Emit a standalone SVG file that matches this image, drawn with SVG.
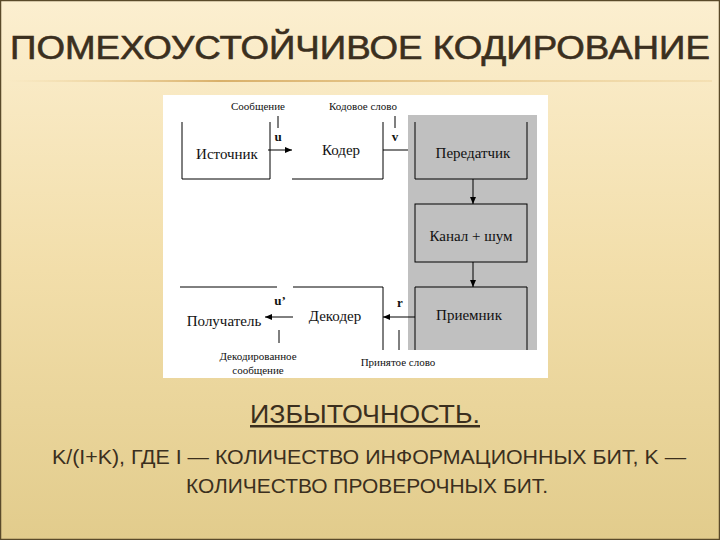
<svg xmlns="http://www.w3.org/2000/svg" width="720" height="540" viewBox="0 0 720 540">
<defs>
<linearGradient id="bg" x1="0" y1="0" x2="0" y2="1">
<stop offset="0" stop-color="#fcefd0"/><stop offset="0.5" stop-color="#f2deaa"/><stop offset="1" stop-color="#e2cc8c"/>
</linearGradient>
<linearGradient id="rule" x1="0" y1="0" x2="1" y2="0">
<stop offset="0" stop-color="#e8c88a" stop-opacity="0"/><stop offset="0.3" stop-color="#d9b06a"/><stop offset="1" stop-color="#e8c88a" stop-opacity="0.3"/>
</linearGradient>
<marker id="ar" markerWidth="8" markerHeight="8" refX="7" refY="4" orient="auto" markerUnits="userSpaceOnUse">
<path d="M0,1 L7,4 L0,7 Z" fill="#000"/>
</marker>
<style>
.ln{stroke:#000;stroke-width:1;fill:none}
.bx{font-family:"Liberation Serif",serif;font-size:15px;fill:#111;text-anchor:middle}
.sm{font-family:"Liberation Serif",serif;font-size:11px;fill:#111;text-anchor:middle}
.b{font-family:"Liberation Serif",serif;font-size:13px;font-weight:bold;fill:#111;text-anchor:middle}
.t{font-family:"Liberation Sans",sans-serif;fill:#3b2f1e}
</style>
</defs>
<rect width="720" height="540" fill="url(#bg)"/>
<rect x="0.5" y="0.5" width="719" height="539" fill="none" stroke="#5a4a2a" stroke-width="1.5"/>
<text class="t" x="360" y="59" font-size="33" stroke="#3b2f1e" stroke-width="0.6" text-anchor="middle" textLength="700" lengthAdjust="spacingAndGlyphs">ПОМЕХОУСТОЙЧИВОЕ КОДИРОВАНИЕ</text>
<rect x="8" y="80" width="704" height="2" fill="url(#rule)"/>
<rect x="163" y="95" width="385" height="283" fill="#fff"/>
<rect x="408" y="115" width="129" height="235" fill="#c0c0c0"/>
<g id="source"><path class="ln" d="M182,122 V179 H270 V122"/><text class="bx" x="227" y="159">Источник</text></g>
<g id="coder"><path class="ln" d="M292,179 H383 V122"/><text class="bx" x="341" y="155">Кодер</text></g>
<g id="transmitter"><path class="ln" d="M415,122 V179 H527 V122"/><text class="bx" x="473" y="158">Передатчик</text></g>
<g id="channel"><rect class="ln" x="415" y="204" width="112" height="58"/><text class="bx" x="471" y="241">Канал + шум</text></g>
<g id="receiver"><path class="ln" d="M415,350 V287 H527 V350"/><text class="bx" x="469" y="320">Приемник</text></g>
<g id="decoder"><path class="ln" d="M293,287 H383 V350"/><text class="bx" x="335" y="321">Декодер</text></g>
<g id="recipient"><path class="ln" d="M180,287 H277"/><text class="bx" x="224" y="326">Получатель</text></g>
<g id="connectors">
<line class="ln" x1="268" y1="150" x2="292" y2="150" marker-end="url(#ar)"/>
<line class="ln" x1="383" y1="150" x2="408" y2="150"/>
<line class="ln" x1="473" y1="179" x2="473" y2="204" marker-end="url(#ar)"/>
<line class="ln" x1="473" y1="262" x2="473" y2="287" marker-end="url(#ar)"/>
<line class="ln" x1="415" y1="317" x2="383" y2="317" marker-end="url(#ar)"/>
<line class="ln" x1="293" y1="317" x2="265" y2="317" marker-end="url(#ar)"/>
<line class="ln" x1="278" y1="116" x2="278" y2="128"/>
<line class="ln" x1="395" y1="116" x2="395" y2="128"/>
<line class="ln" x1="279" y1="330" x2="279" y2="343"/>
<line class="ln" x1="399" y1="330" x2="399" y2="350"/>
</g>
<text class="sm" x="258" y="110">Сообщение</text>
<text class="sm" x="363" y="110">Кодовое слово</text>
<text class="b" x="278" y="141">u</text>
<text class="b" x="395" y="141">v</text>
<text class="b" x="280" y="305">u’</text>
<text class="b" x="400" y="307">r</text>
<text class="sm" x="258" y="360">Декодированное</text>
<text class="sm" x="258" y="374">сообщение</text>
<text class="sm" x="398" y="366">Принятое слово</text>
<text class="t" x="365" y="423" font-size="25" text-anchor="middle" text-decoration="underline" textLength="230" lengthAdjust="spacingAndGlyphs">ИЗБЫТОЧНОСТЬ.</text>
<text class="t" x="369" y="464" font-size="21" text-anchor="middle" textLength="634" lengthAdjust="spacingAndGlyphs">K/(I+K), ГДЕ I — КОЛИЧЕСТВО ИНФОРМАЦИОННЫХ БИТ, K —</text>
<text class="t" x="367" y="493" font-size="21" text-anchor="middle" textLength="362" lengthAdjust="spacingAndGlyphs">КОЛИЧЕСТВО ПРОВЕРОЧНЫХ БИТ.</text>
</svg>
